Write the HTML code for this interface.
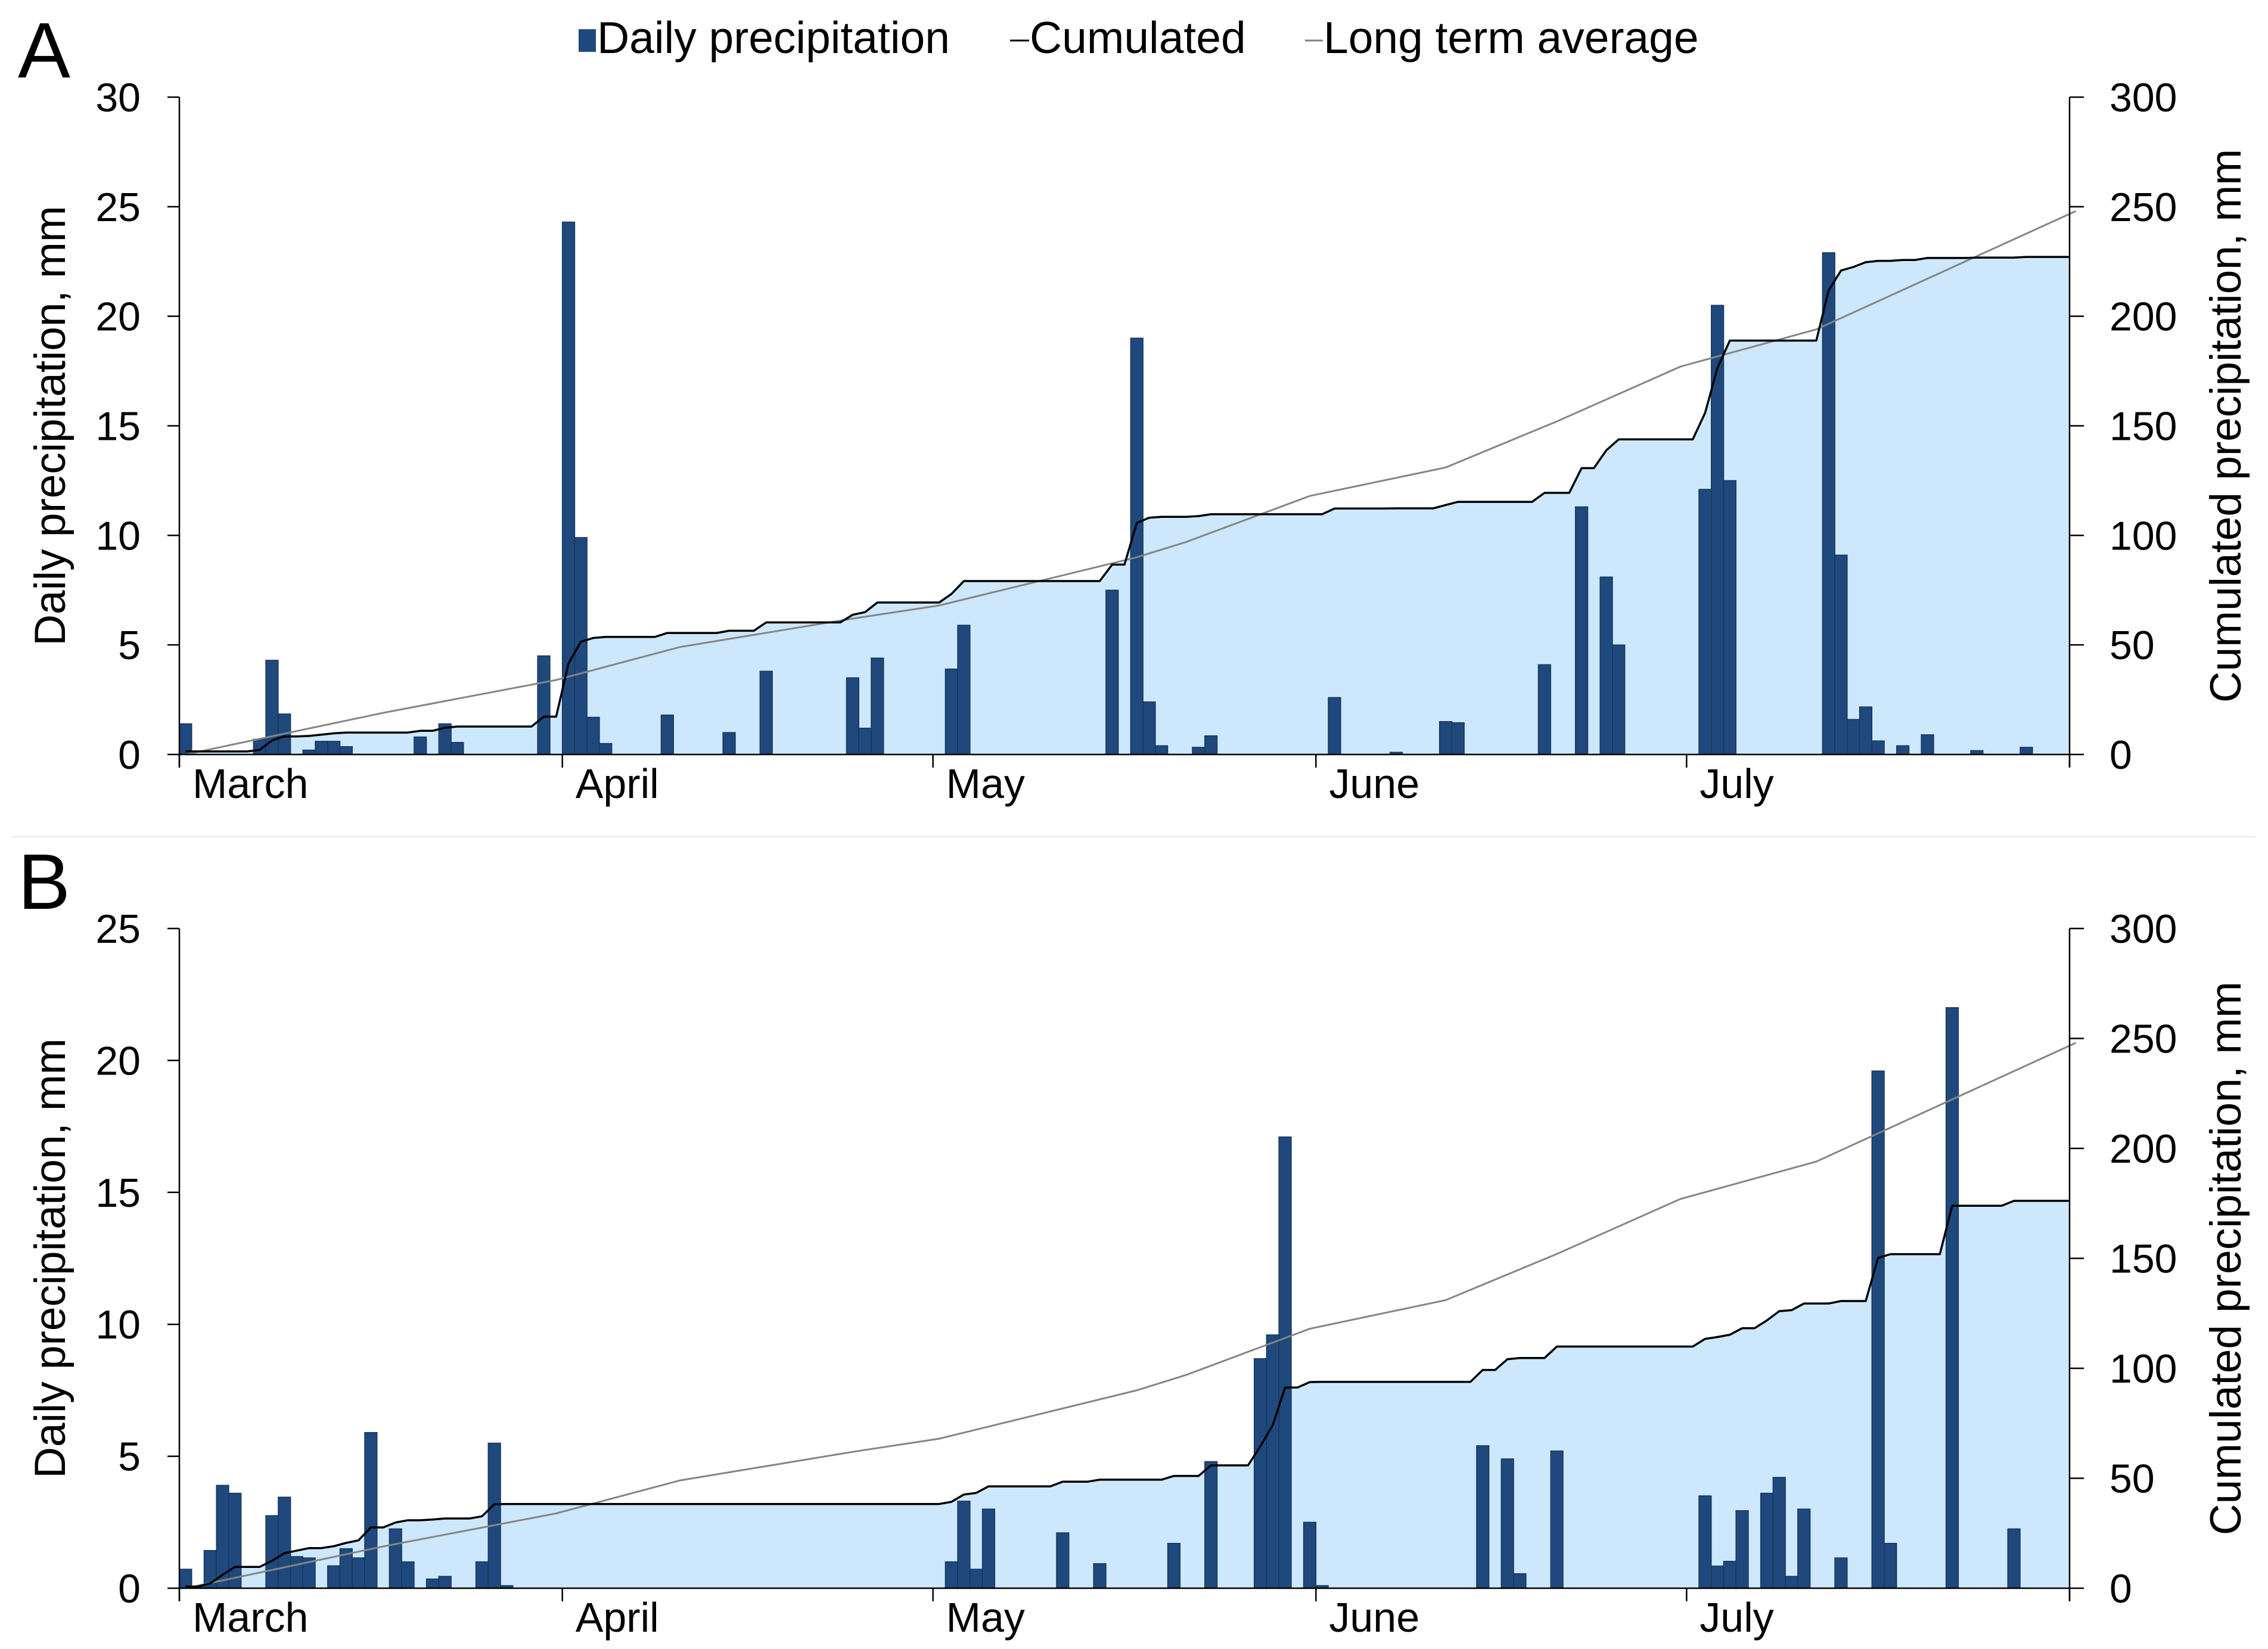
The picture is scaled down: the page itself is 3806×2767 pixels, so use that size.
<!DOCTYPE html>
<html><head><meta charset="utf-8">
<style>
html,body{margin:0;padding:0;background:#fff;}
svg{display:block;font-family:"Liberation Sans",Arial,sans-serif;}
</style></head>
<body>
<svg id="chart" width="3806" height="2767" viewBox="0 0 3806 2767" xmlns="http://www.w3.org/2000/svg">
  <rect x="0" y="0" width="3806" height="2767" fill="#ffffff"/>
  <line x1="20" y1="1404" x2="3785" y2="1404" stroke="#eeeeee" stroke-width="3"/>
  <g>
    <g>
      <rect x="971" y="49" width="29" height="38" fill="#1f497d"/>
      <text x="1002" y="89" font-size="75" fill="#000">Daily precipitation</text>
    </g>
    <g>
      <line x1="1695" y1="68" x2="1727" y2="68" stroke="#000" stroke-width="3"/>
      <text x="1728" y="89" font-size="75" fill="#000">Cumulated</text>
    </g>
    <g>
      <line x1="2190" y1="68" x2="2220" y2="68" stroke="#808080" stroke-width="3"/>
      <text x="2221" y="89" font-size="75" fill="#000">Long term average</text>
    </g>
  </g>
  <text x="30" y="130" font-size="132" fill="#000">A</text>
  <text x="30" y="1525" font-size="132" fill="#000">B</text>
  <g id="panelA"></g>
  <g id="panelB"></g>
</svg>
<script>
const totalDays = 153;
const monthLabels = ['March', 'April', 'May', 'June', 'July'];
const monthStartDays = [0, 31, 61, 92, 122, 153];
const ltaDays = [0, 16, 30, 40, 54, 61, 77, 81, 91, 102, 111, 121, 132, 153];
const ltaValues = [0, 19, 34, 49, 62, 68, 90, 97, 118, 131, 152, 177, 194, 248];
const aLeftTicks = [0, 5, 10, 15, 20, 25, 30];
const bLeftTicks = [0, 5, 10, 15, 20, 25];
const rightTicks = [0, 50, 100, 150, 200, 250, 300];
const aDays = [0, 6, 7, 8, 10, 11, 12, 13, 19, 21, 22, 29, 31, 32, 33, 34, 39, 44, 47, 54, 55, 56, 62, 63, 75, 77, 78, 79, 82, 83, 93, 98, 102, 103, 110, 113, 115, 116, 123, 124, 125, 133, 134, 135, 136, 137, 139, 141, 145, 149];
const aValues = [1.4, 0.7, 4.3, 1.85, 0.2, 0.6, 0.6, 0.36, 0.8, 1.4, 0.55, 4.5, 24.3, 9.9, 1.7, 0.5, 1.8, 1.0, 3.8, 3.5, 1.2, 4.4, 3.9, 5.9, 7.5, 19.0, 2.4, 0.4, 0.33, 0.85, 2.6, 0.1, 1.5, 1.45, 4.1, 11.3, 8.1, 5.0, 12.1, 20.5, 12.5, 22.9, 9.1, 1.6, 2.17, 0.62, 0.4, 0.9, 0.18, 0.33];
const bDays = [0, 1, 2, 3, 4, 7, 8, 9, 10, 12, 13, 14, 15, 17, 18, 20, 21, 24, 25, 26, 62, 63, 64, 65, 71, 74, 80, 83, 87, 88, 89, 91, 92, 105, 107, 108, 111, 123, 124, 125, 126, 128, 129, 130, 131, 134, 137, 138, 143, 148];
const bValues = [0.72, 0.05, 1.43, 3.9, 3.6, 2.75, 3.45, 1.2, 1.15, 0.85, 1.5, 1.15, 5.9, 2.25, 1.0, 0.35, 0.45, 1.0, 5.5, 0.1, 1.0, 3.3, 0.72, 3.0, 2.1, 0.93, 1.7, 4.8, 8.7, 9.6, 17.1, 2.5, 0.1, 5.4, 4.9, 0.55, 5.2, 3.5, 0.84, 1.02, 2.94, 3.6, 4.2, 0.45, 3.0, 1.15, 19.6, 1.7, 22.0, 2.25];

const NS = 'http://www.w3.org/2000/svg';
const X0 = 301, X1 = 3473;
const dayW = (X1 - X0) / totalDays;
function xScale(d) { return X0 + d * dayW; }
function mk(tag, attrs, parent) {
  const el = document.createElementNS(NS, tag);
  for (const k in attrs) el.setAttribute(k, attrs[k]);
  parent.appendChild(el);
  return el;
}

function drawPanel(g, key, top, zero, leftMax, leftTicks, days, values) {
  const yL = v => zero - (v / leftMax) * (zero - top);
  const yR = v => zero - (v / 300) * (zero - top);
  const daily = new Array(totalDays).fill(0);
  days.forEach((d, i) => { daily[d] += values[i]; });
  const cum = [];
  let s = 0;
  for (let i = 0; i < totalDays; i++) { s += daily[i]; cum.push(s); }
  let pts = [[xScale(0.5), zero]];
  for (let i = 0; i < totalDays; i++) pts.push([xScale(i + 0.5), yR(cum[i])]);
  pts.push([X1, yR(cum[totalDays - 1])]);
  pts.push([X1, zero]);
  const area = mk('polygon', {points: pts.map(p => p[0].toFixed(1) + ',' + p[1].toFixed(1)).join(' '), fill: '#cde8fc'}, g);
  
  
  days.forEach((d, i) => {
    const y = yL(values[i]);
    const b = mk('rect', {x: xScale(d).toFixed(1), y: y.toFixed(1), width: dayW.toFixed(1), height: (zero - y).toFixed(1), fill: '#1f497d', stroke: '#16365c', 'stroke-width': 1.5}, g);
    
    
  });
  const lta = mk('polyline', {points: ltaDays.map((d, i) => xScale(d + 0.5).toFixed(1) + ',' + yR(ltaValues[i]).toFixed(1)).join(' '), fill: 'none', stroke: '#858585', 'stroke-width': 3}, g);
  
  
  const cl = mk('polyline', {points: pts.slice(1, totalDays + 2).map(p => p[0].toFixed(1) + ',' + p[1].toFixed(1)).join(' '), fill: 'none', stroke: '#000', 'stroke-width': 3.5, 'stroke-linejoin': 'round'}, g);
  
  
  const la = mk('line', {x1: X0, y1: top, x2: X0, y2: zero + 22, stroke: '#000', 'stroke-width': 2.5}, g);
  
  
  const ra = mk('line', {x1: X1, y1: top, x2: X1, y2: zero + 22, stroke: '#000', 'stroke-width': 2.5}, g);
  
  
  const xa = mk('line', {x1: X0, y1: zero, x2: X1, y2: zero, stroke: '#000', 'stroke-width': 2.5}, g);
  
  
  leftTicks.forEach(v => {
    const y = yL(v);
    const t = mk('line', {x1: X0 - 20, y1: y, x2: X0, y2: y, stroke: '#000', 'stroke-width': 2.5}, g);
    
    
    const tx = mk('text', {x: 236, y: y + 24, 'font-size': 68, 'text-anchor': 'end', fill: '#000'}, g);
    tx.textContent = String(v);
    
    
  });
  rightTicks.forEach(v => {
    const y = yR(v);
    const t = mk('line', {x1: X1, y1: y, x2: X1 + 24, y2: y, stroke: '#000', 'stroke-width': 2.5}, g);
    
    
    const tx = mk('text', {x: 3540, y: y + 24, 'font-size': 68, fill: '#000'}, g);
    tx.textContent = String(v);
    
    
  });
  monthStartDays.forEach((d, i) => {
    const x = xScale(d);
    const t = mk('line', {x1: x, y1: zero, x2: x, y2: zero + 22, stroke: '#000', 'stroke-width': 2.5}, g);
    
    
    if (i < monthLabels.length) {
      const tx = mk('text', {x: x + 22, y: zero + 73, 'font-size': 70, fill: '#000'}, g);
      tx.textContent = monthLabels[i];
      
      
    }
  });
  const mid = (top + zero) / 2;
  const lt = mk('text', {x: 0, y: 0, 'font-size': 73, 'text-anchor': 'middle', fill: '#000', transform: 'translate(109,' + mid + ') rotate(-90)'}, g);
  lt.textContent = 'Daily precipitation, mm';
  
  
  const rt = mk('text', {x: 0, y: 0, 'font-size': 73, 'text-anchor': 'middle', fill: '#000', transform: 'translate(3760,' + mid + ') rotate(-90)'}, g);
  rt.textContent = 'Cumulated precipitation, mm';
  
  
}

drawPanel(document.getElementById('panelA'), 'panel-a', 163, 1266, 30, aLeftTicks, aDays, aValues);
drawPanel(document.getElementById('panelB'), 'panel-b', 1558, 2665, 25, bLeftTicks, bDays, bValues);
</script>
</body></html>
